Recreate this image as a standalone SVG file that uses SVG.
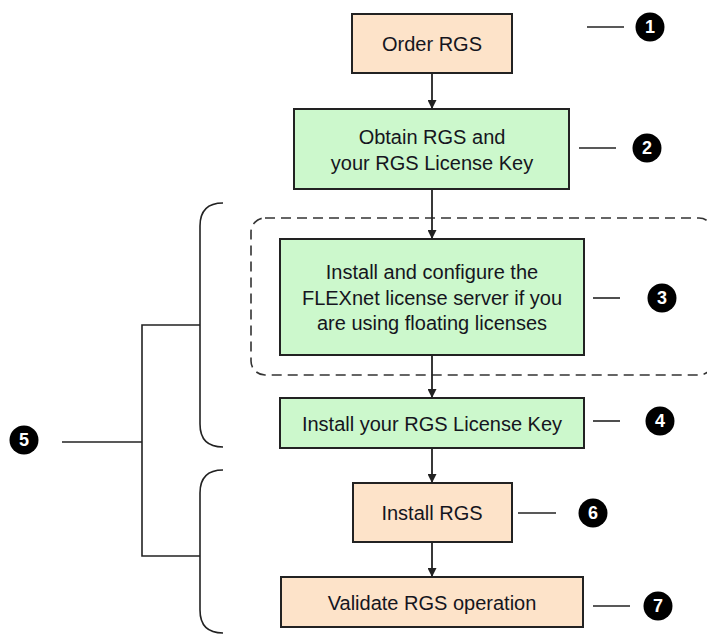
<svg xmlns="http://www.w3.org/2000/svg" width="707" height="635" viewBox="0 0 707 635">
<style>
.peach{fill:#FDE3C9;stroke:#222;stroke-width:2}
.green{fill:#CCF8CC;stroke:#222;stroke-width:2}
.t{font-family:"Liberation Sans",Arial,sans-serif;font-size:20px;fill:#151520;text-anchor:middle;dominant-baseline:central}
.ln{stroke:#222;stroke-width:1.6;fill:none}
.num{fill:#000}
.nt{font-family:"Liberation Sans",Arial,sans-serif;font-size:18px;font-weight:bold;fill:#fff;text-anchor:middle;dominant-baseline:central}
.arr{stroke:#222;stroke-width:1.8;fill:none;marker-end:url(#ah)}
</style>
<defs>
<marker id="ah" viewBox="0 0 10 10" refX="10" refY="5" markerWidth="9" markerHeight="9" markerUnits="userSpaceOnUse" orient="auto">
<path d="M0,0 L10,5 L0,10 z" fill="#222"/>
</marker>
</defs>

<rect x="251" y="218" width="462" height="157" rx="14" fill="none" stroke="#333" stroke-width="1.6" stroke-dasharray="10,6"/>

<g id="connectors">
<line class="arr" x1="432" y1="73" x2="432" y2="109"/>
<line class="arr" x1="432" y1="189" x2="432" y2="239"/>
<line class="arr" x1="432" y1="355" x2="432" y2="398"/>
<line class="arr" x1="432" y1="448" x2="432" y2="483"/>
<line class="arr" x1="432" y1="542" x2="432" y2="577"/>
<path class="ln" d="M223,203 Q200,203 200,226 L200,424 Q200,447 223,447"/>
<path class="ln" d="M223,470 Q200,470 200,493 L200,610 Q200,633 223,633"/>
<path class="ln" d="M200,325 H142 V556 H200"/>
<line class="ln" x1="62" y1="442" x2="142" y2="442"/>
<line class="ln" x1="587" y1="27" x2="624" y2="27"/>
<line class="ln" x1="579" y1="148" x2="616" y2="148"/>
<line class="ln" x1="593" y1="298" x2="620" y2="298"/>
<line class="ln" x1="593" y1="421" x2="620" y2="421"/>
<line class="ln" x1="518" y1="513" x2="556" y2="513"/>
<line class="ln" x1="593" y1="606" x2="630" y2="606"/>
</g>

<g id="n1">
<rect class="peach" x="352" y="14" width="160" height="59"/>
<text class="t" x="432" y="44">Order RGS</text>
</g>
<g id="n2">
<rect class="green" x="294" y="109" width="275" height="80"/>
<text class="t" x="432" y="137">Obtain RGS and</text>
<text class="t" x="432" y="163">your RGS License Key</text>
</g>
<g id="n3">
<rect class="green" x="280" y="239" width="304" height="116"/>
<text class="t" x="432" y="272">Install and configure the</text>
<text class="t" x="432" y="298">FLEXnet license server if you</text>
<text class="t" x="432" y="323">are using floating licenses</text>
</g>
<g id="n4">
<rect class="green" x="280" y="398" width="304" height="50"/>
<text class="t" x="432" y="424">Install your RGS License Key</text>
</g>
<g id="n6">
<rect class="peach" x="353" y="483" width="159" height="59"/>
<text class="t" x="432" y="513">Install RGS</text>
</g>
<g id="n7">
<rect class="peach" x="281" y="577" width="302" height="50"/>
<text class="t" x="432" y="603">Validate RGS operation</text>
</g>

<g id="c1"><circle class="num" cx="650" cy="27" r="14.5"/><text class="nt" x="650" y="27">1</text></g>
<g id="c2"><circle class="num" cx="647" cy="148" r="14.5"/><text class="nt" x="647" y="148">2</text></g>
<g id="c3"><circle class="num" cx="662" cy="298" r="14.5"/><text class="nt" x="662" y="298">3</text></g>
<g id="c4"><circle class="num" cx="660" cy="421" r="14.5"/><text class="nt" x="660" y="421">4</text></g>
<g id="c5"><circle class="num" cx="24" cy="440" r="14.5"/><text class="nt" x="24" y="440">5</text></g>
<g id="c6"><circle class="num" cx="593" cy="513" r="14.5"/><text class="nt" x="593" y="513">6</text></g>
<g id="c7"><circle class="num" cx="658" cy="606" r="14.5"/><text class="nt" x="658" y="606">7</text></g>
</svg>
